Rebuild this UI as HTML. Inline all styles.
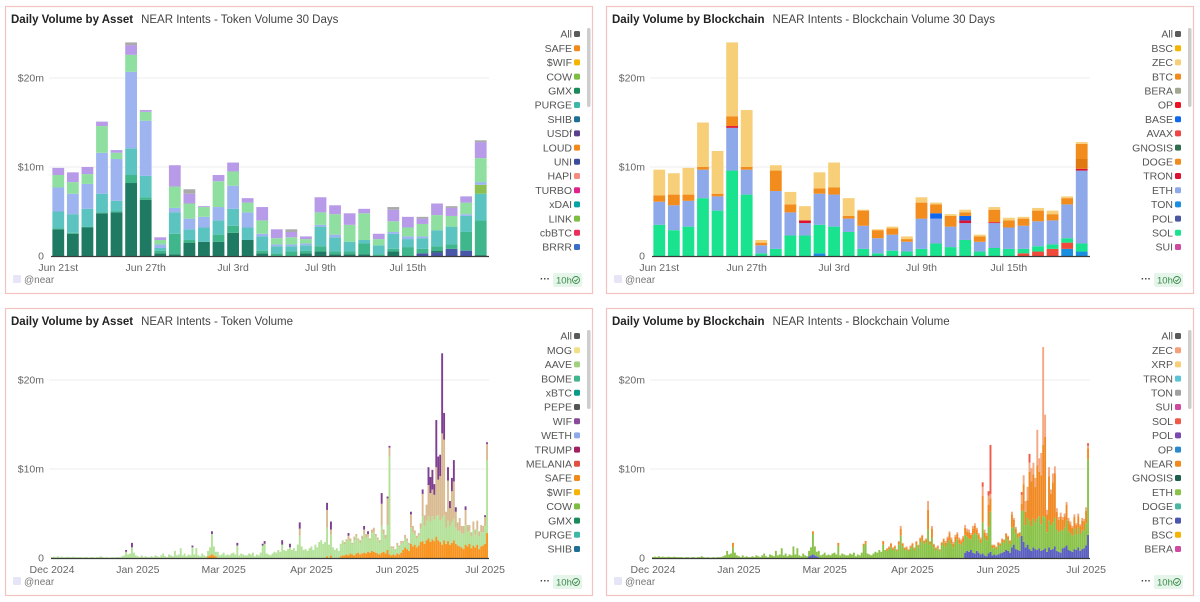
<!DOCTYPE html>
<html><head><meta charset="utf-8">
<style>
html,body{margin:0;padding:0;background:#fff;width:1200px;height:602px;overflow:hidden}
svg{display:block;font-family:"Liberation Sans",sans-serif}
</style></head>
<body>
<svg id="root" width="1200" height="602" viewBox="0 0 1200 602"></svg>
<script>
// ---------- Top-left: Token Volume 30 Days ----------
const tlCategories = ["Jun 21st","Jun 22","Jun 23","Jun 24","Jun 25","Jun 26","Jun 27th","Jun 28","Jun 29","Jun 30","Jul 1","Jul 2","Jul 3rd","Jul 4","Jul 5","Jul 6","Jul 7","Jul 8","Jul 9th","Jul 10","Jul 11","Jul 12","Jul 13","Jul 14","Jul 15th","Jul 16","Jul 17","Jul 18","Jul 19","Jul 20"];
const tlUni    = [0,0,0,0,0,0,0,0,0,0, 0,0,0,0,0,0,0,0,0,0, 0,0,0,0,0,0.3,0.4,0.8,0.6,0];
const tlGmx    = [3.0,2.5,3.2,4.8,4.9,8.2,6.3,0.3,0.2,1.5, 1.6,1.6,2.6,1.8,0.3,0,0,0.3,0.5,0.2, 0.2,0.2,0,0.5,0,0,0.2,0,0,0.1];
const tlBome   = [0.1,0.1,0.1,0.1,0.1,0.9,0.3,0.3,2.3,0.3, 0,0.8,0.8,0,0.3,0.3,0.5,0.3,0.6,0.3, 0.3,1.2,0.2,0.3,1.0,0.5,0.5,0.5,2.1,3.9];
const tlPurge  = [1.9,2.1,2.0,2.1,1.2,3.0,2.4,0.3,2.4,1.2, 1.6,1.6,1.9,1.4,1.6,0.8,0.6,0.6,2.2,1.6, 1.1,0.4,1.0,1.7,0.9,1.2,1.8,2.0,1.8,3.0];
const tlLink   = [0,0,0,0,0,0,0,0,0,0, 0,0,0,0,0,0,0,0,0,0, 0,0,0,0,0,0,0,0,0,1.0];
const tlWeth   = [2.7,2.3,2.8,4.6,4.7,8.6,6.2,0.4,0.5,1.2, 1.2,1.5,2.6,1.7,0.3,0.2,0.2,0.2,0.2,0.3, 0,0,0,0.2,0.3,0.2,0,0,0.2,0.3];
const tlAave   = [1.4,1.3,1.1,3.0,0.7,1.9,1.0,0.5,2.4,1.7, 1.1,2.9,1.6,1.1,1.5,0.7,0.8,0.5,1.4,2.3, 1.9,3.0,0.7,1.2,1.0,1.4,1.7,1.2,1.3,2.7];
const tlOther  = [0.8,1.1,0.8,0.5,0.3,1.1,0.2,0.3,2.4,1.1, 0.1,0.7,1.0,0.5,1.5,1.0,0.6,0.3,1.7,1.0, 1.3,0.5,0.6,1.3,1.2,0.6,1.3,0.9,0.7,1.8];
const tlGrey   = [0,0,0,0,0,0.3,0,0,0,0.5, 0,0,0,0,0,0,0.3,0,0,0, 0,0,0,0.3,0,0.2,0,0.2,0,0.2];
const tlTickIdx = [0,6,12,18,24];

// ---------- Top-right: Blockchain Volume 30 Days ----------
const trTon  = [0,0,0,0,0,0,0,0,0,0, 0,0.3,0,0,0,0,0,0,0,0, 0,0,0,0,0,0,0,0,0.8,0.5];
const trAvax = [0,0,0,0,0,0,0,0,0,0, 0,0,0,0,0,0,0,0,0,0, 0,0,0,0,0,0.3,0.5,0.8,0.7,0];
const trSol  = [3.5,2.9,3.3,6.5,5.1,9.6,6.9,0.3,0.8,2.3, 2.3,3.2,3.3,2.7,0.8,0.3,0.6,0.5,0.8,1.4, 1.0,1.8,0.5,0.9,0.8,0.5,0.6,0.5,0.5,0.9];
const trEth  = [2.6,2.8,2.9,3.2,1.6,4.8,2.8,0.9,6.5,2.6, 1.4,3.5,3.6,1.5,2.6,1.7,1.8,1.1,3.4,2.8, 2.3,1.9,1.1,2.8,2.4,2.6,2.8,2.7,3.8,8.2];
const trTron = [0,0,0,0,0,0.2,0,0,0,0, 0.3,0,0,0,0,0,0,0,0,0, 0,0.3,0,0.1,0,0,0,0,0,0.2];
const trBase = [0,0,0,0,0,0,0,0,0,0, 0,0,0,0,0,0,0,0,0,0.6, 0,0.5,0,0,0,0,0,0,0,0];
const trDoge = [0,0,0,0,0,0,0,0,0,0, 0,0,0,0,0,0,0,0,0,0, 0,0,0,0,0,0,0,0,0,1.1];
const trBtc  = [0.7,1.2,0.7,0.3,0.3,1.1,0.3,0.3,2.3,0.9, 0,0.6,0.8,0.3,1.7,0.9,0.7,0.3,1.8,1.0, 1.2,0.4,0.6,1.4,0.8,0.8,1.2,0.7,0.7,1.7];
const trZec  = [2.9,2.4,3.0,5.0,4.8,8.3,6.4,0.3,0.6,1.4, 1.6,1.8,2.8,2.0,0.1,0.1,0.2,0.3,0.6,0.2, 0.2,0.3,0.2,0.3,0.3,0.2,0.3,0.4,0.2,0.2];

// ---------- Bottom (all-time, 224 days) ----------
const allTimeTickLabels = ["Dec 2024","Jan 2025","Mar 2025","Apr 2025","Jun 2025","Jul 2025"];
const allTimeTickIdx = [0,44,88,133,177,222];

const blGreen = [
0.1,0.15,0.1,0.2,0.1,0.15,0.1,0.1,0.15,0.1, 0.1,0.15,0.1,0.1,0.1,0.1,0.05,0.1,0.1,0.05, 0.1,0.1,0.05,0.1,0.1,0.2,0.1,0.05,0.1,0.05,
0.05,0.1,0.05,0.1,0.1,0.1,0.2,0.3,0.7,0.4, 0.5,1.2,0.6,0.3,0.2,0.1,0.3,0.1,0.2,0.1, 0.1,0.2,0.1,0.3,0.2,0.1,0.3,0.5,0.2,0.1,
0.4,0.3,0.2,0.8,0.3,0.4,1.1,0.3,0.5,0.2, 0.4,0.3,1.2,0.4,1.1,0.3,0.2,0.5,0.3,0.2, 0.6,0.9,2.3,1.0,0.5,0.7,0.3,0.4,0.6,0.3,
0.4,0.3,0.5,0.6,0.4,1.4,0.3,0.5,0.4,0.3, 0.3,0.5,0.4,0.6,0.2,0.4,0.3,0.6,1.4,1.6, 0.5,0.4,0.3,0.5,0.7,0.6,0.9,0.7,1.5,0.9,
0.8,1.0,1.2,0.9,1.1,0.8,1.5,2.5,1.3,0.9, 1.0,0.8,1.1,1.3,0.9,1.5,1.2,1.8,2.0,1.6, 1.8,3.2,1.5,2.3,1.2,0.9,1.1,0.8,1.4,1.7,
1.2,1.5,1.8,1.4,1.1,1.7,1.9,1.4,1.3,1.6, 2.1,1.8,1.7,1.4,2.0,2.2,1.8,1.6,1.3,3.0, 2.0,1.7,2.8,11.0,0.8,0.7,0.6,0.9,0.8,1.0,
0.8,1.0,0.9,0.7,1.8,1.6,1.2,1.0,1.1,1.5, 2.8,2.0,2.2,2.5,2.3,2.6,2.4,2.3,2.8,2.4, 3.0,2.8,1.8,2.3,2.1,2.3,2.4,1.8,1.6,1.8,
1.6,1.7,2.2,1.6,1.5,1.3,1.8,1.4,1.7,1.4, 1.6,1.5,2.0,8.2];
const blOrange = [
0,0,0,0,0,0,0,0,0,0, 0,0,0,0,0,0,0,0,0,0, 0,0,0,0,0,0,0,0,0,0,
0,0,0,0,0,0,0,0,0,0, 0,0,0,0,0,0,0,0,0,0, 0,0,0,0,0,0,0,0,0,0,
0,0,0,0,0,0,0,0,0,0, 0,0,0,0,0,0,0,0,0,0, 0.2,0.3,0.4,0.3,0.2,0,0,0,0,0,
0,0,0,0,0,0,0,0,0,0, 0,0,0,0,0,0,0,0,0,0, 0,0,0,0,0,0,0,0,0,0,
0,0,0,0,0,0,0,0,0,0, 0,0,0,0,0,0,0,0,0,0, 0,0.2,0,0.3,0,0,0,0,0.2,0.3,
0.3,0.4,0.3,0.5,0.4,0.3,0.5,0.6,0.4,0.5, 0.6,0.5,0.7,0.6,0.8,0.7,0.6,0.5,0.4,0.6, 0.7,0.5,0.9,0.4,0.3,0.4,0.3,0.5,0.4,0.6,
0.9,1.2,1.0,0.8,1.6,1.3,1.5,1.2,1.4,1.8, 1.9,1.6,2.0,2.2,1.8,2.1,1.9,2.4,2.0,1.8, 1.5,2.0,1.6,1.9,1.5,1.7,2.0,1.6,1.4,1.3,
1.2,1.0,1.5,1.3,1.6,1.1,1.4,1.2,1.5,1.0, 1.3,1.4,1.6,2.8];
const blTan = [
0,0,0,0,0,0,0,0,0,0, 0,0,0,0,0,0,0,0,0,0, 0,0,0,0,0,0,0,0,0,0,
0,0,0,0,0,0,0,0,0,0, 0,0,0,0,0,0,0,0,0,0, 0,0,0,0,0,0,0,0,0,0,
0,0,0,0,0,0,0,0,0,0, 0,0,0,0,0,0,0,0,0,0, 0,0,0,0,0,0,0,0,0,0,
0,0,0,0,0,0,0,0,0,0, 0,0,0,0,0,0,0,0,0,0, 0,0,0,0,0,0,0,0,0,0,
0,0,0,0,0,0,0,0.8,0,0, 0,0,0,0,0,0,0,0,0,0, 0,2.0,0,0.6,0,0,0,0,0,0,
0.3,0.2,0.4,0.3,0.2,0.4,0.3,0.2,0.3,0.4, 0.5,0.4,0.3,0.2,0.4,0.5,0.3,0.2,0.3,2.5, 0.5,0.4,3.0,1.0,0.2,0.2,0.1,0.3,0.2,0.3,
0.2,0.4,0.3,0.2,1.5,0.7,0.4,0.3,0.3,0.6, 2.5,1.2,1.8,3.5,3.2,3.0,2.8,5.5,4.0,5.0, 9.5,8.5,1.8,4.5,2.0,3.5,4.2,1.8,1.0,1.4,
0.8,0.9,1.7,0.8,0.6,0.5,0.9,0.6,1.0,0.6, 0.8,0.7,1.0,1.8];
const blWif = [
0,0,0,0,0,0,0,0,0,0, 0,0,0,0,0,0,0,0,0,0, 0,0,0,0,0,0,0,0,0,0,
0,0,0,0,0,0,0,0,0.2,0, 0,0.5,0,0,0,0,0,0,0,0, 0,0,0,0,0,0,0,0,0,0,
0,0,0,0,0,0,0,0,0,0, 0,0,0.2,0,0,0,0,0,0,0, 0,0,0.3,0,0,0,0,0,0,0,
0,0,0,0,0,0.3,0,0,0,0, 0,0,0,0,0,0,0,0,0.2,0.3, 0,0,0,0,0,0,0,0,0.5,0,
0,0,0.4,0,0,0,0,0.7,0,0, 0,0,0,0,0,0,0,0,0,0, 0,0.8,0,0.9,0,0,0,0,0,0,
0,0,0.3,0,0,0,0,0,0,0, 0.4,0,0.3,0,0,0,0,0,0,1.2, 0,0,0.2,0.2,0,0,0,0,0,0,
0,0,0,0,0.3,0,0,0,0,0, 0.5,0,0,2.0,1.8,2.2,1.2,5.3,2.6,2.4, 9.0,3.0,0,1.5,0.8,1.5,2.4,0.5,0,0,
0,0,0.4,0,0,0,0,0,0,0, 0,0,0.2,0.2];

const brBtc = [
0,0,0,0,0,0,0,0,0,0, 0,0,0,0,0,0,0,0,0,0, 0,0,0,0,0,0,0,0,0,0,
0,0,0,0,0,0,0,0,0,0, 0,0,0,0,0,0,0,0,0,0, 0,0,0,0,0,0,0,0,0,0,
0,0,0,0,0,0,0,0,0,0, 0,0,0,0,0,0,0,0,0,0, 0.2,0.3,0.4,0.3,0.2,0.1,0,0,0,0,
0,0,0,0,0,0,0,0,0,0, 0,0,0,0,0,0,0,0,0,0, 0,0,0,0,0,0,0,0,0,0,
0,0,0,0,0,0,0,0,0,0, 0,0,0,0,0,0,0,0,0,0, 0,0,0,0,0,0,0,0,0,0,
0,0,0,0,0,0,0,0,0,0, 0.6,0.8,0.7,0.9,0.6,0.5,0.8,0.6,0.4,0.5, 0.3,0.2,0.5,0.7,0.3,0.4,0.3,0.4,0.5,0.6,
0.7,0.9,0.8,0.6,1.2,1.5,1.0,0.9,0.8,2.5, 1.8,1.2,1.5,1.0,0.8,1.2,1.0,0.9,1.1,0.8, 0.9,1.1,0.7,1.2,0.9,1.0,1.3,0.8,0.7,0.6,
1.1,1.2,1.4,0.9,0.8,0.7,1.0,0.9,1.2,0.8, 1.0,1.1,1.4,2.6];
const brEth = [
0.1,0.15,0.1,0.2,0.1,0.15,0.1,0.1,0.15,0.1, 0.1,0.15,0.1,0.1,0.1,0.1,0.05,0.1,0.1,0.05, 0.1,0.1,0.05,0.1,0.1,0.2,0.1,0.05,0.1,0.05,
0.05,0.1,0.05,0.1,0.1,0.1,0.2,0.3,0.8,0.4, 0.5,1.2,0.6,0.3,0.2,0.1,0.3,0.1,0.2,0.1, 0.1,0.2,0.1,0.3,0.2,0.1,0.3,0.5,0.2,0.1,
0.4,0.3,0.2,0.8,0.3,0.4,1.1,0.3,0.5,0.2, 0.4,0.3,1.3,0.4,1.1,0.3,0.2,0.5,0.3,0.2, 0.6,0.9,2.3,1.0,0.5,0.7,0.3,0.4,0.6,0.3,
0.4,0.3,0.5,0.6,0.4,1.4,0.3,0.5,0.4,0.3, 0.3,0.5,0.4,0.6,0.2,0.4,0.3,0.6,1.4,1.6, 0.5,0.4,0.3,0.5,0.7,0.6,0.9,0.7,1.5,0.9,
0.8,1.0,1.2,0.9,1.1,0.8,1.5,2.5,1.3,0.9, 1.0,0.8,1.1,1.3,0.9,1.5,1.2,1.8,2.0,1.6, 1.8,3.2,1.5,2.3,1.2,0.9,1.1,0.8,1.4,1.7,
1.3,1.7,2.0,1.6,1.2,1.8,2.1,1.6,1.5,1.8, 2.0,1.6,1.5,1.2,2.0,2.3,1.8,1.5,1.3,3.5, 2.0,1.8,3.0,4.5,0.8,0.8,0.7,1.0,0.9,1.2,
1.0,1.4,1.2,1.0,2.2,2.0,1.8,1.4,1.6,2.8, 3.5,2.5,3.0,3.2,2.8,3.2,3.0,3.5,3.6,3.0, 3.8,3.5,2.2,3.0,2.8,3.0,3.2,2.4,2.2,2.5,
2.0,2.2,2.8,2.1,2.0,1.8,2.3,1.8,2.2,1.9, 2.1,2.0,2.5,8.5];
const brNear = [
0,0,0,0,0,0,0,0,0,0, 0,0,0,0,0,0,0,0,0,0, 0,0,0,0,0,0,0,0,0,0,
0,0,0,0,0,0,0,0,0,0, 0,0.5,0,0,0,0,0,0,0,0, 0,0,0,0,0,0,0,0,0,0,
0,0,0,0,0,0,0,0,0,0, 0,0,0,0,0,0,0,0,0,0, 0,0,0.3,0,0,0,0,0,0,0,
0,0,0,0,0,0.3,0,0,0,0, 0,0,0,0,0,0,0,0,0.2,0.3, 0,0,0,0,0,0,0,0,0.4,0,
0.2,0.2,0.4,0.2,0.2,0.1,0.3,0.8,0.3,0.2, 0.2,0.1,0.2,0.3,0.2,0.3,0.2,0.4,0.5,0.3, 0.3,2.2,0.3,1.0,0.3,0.2,0.2,0.1,0.3,0.4,
0.4,0.5,0.8,0.5,0.4,0.6,0.6,0.5,0.4,0.5, 0.8,0.6,0.7,0.5,0.7,0.8,0.6,0.5,0.4,3.0, 0.6,0.5,2.5,1.5,0.3,0.2,0.2,0.3,0.2,0.3,
0.3,0.4,0.4,0.3,1.5,0.8,0.5,0.4,0.4,0.8, 3.0,1.5,2.0,5.5,5.0,5.0,4.0,6.0,5.0,5.5, 8.0,9.0,2.0,5.0,3.5,4.5,5.0,2.0,1.4,1.6,
1.2,1.3,1.8,1.2,1.0,0.9,1.3,1.0,1.3,0.9, 1.1,1.0,1.4,1.2];
const brZec = [
0,0,0,0,0,0,0,0,0,0, 0,0,0,0,0,0,0,0,0,0, 0,0,0,0,0,0,0,0,0,0,
0,0,0,0,0,0,0,0,0,0, 0,0,0,0,0,0,0,0,0,0, 0,0,0,0,0,0,0,0,0,0,
0,0,0,0,0,0,0,0,0,0, 0,0,0,0,0,0,0,0,0,0, 0,0,0,0,0,0,0,0,0,0,
0,0,0,0,0,0,0,0,0,0, 0,0,0,0,0,0,0,0,0,0, 0,0,0,0,0,0,0,0,0,0,
0.1,0.1,0.1,0.1,0.1,0.1,0.1,0.3,0.1,0.1, 0.1,0.1,0.1,0.1,0.1,0.1,0.1,0.1,0.1,0.1, 0.1,1.0,0.1,0.3,0.1,0.1,0.1,0.1,0.1,0.1,
0.2,0.2,0.2,0.2,0.2,0.2,0.2,0.2,0.2,0.2, 0.3,0.3,0.3,0.2,0.3,0.3,0.2,0.2,0.2,1.0, 0.3,0.3,1.0,0.5,0.1,0.1,0.1,0.1,0.1,0.1,
0.1,0.1,0.1,0.1,0.3,0.2,0.2,0.1,0.1,1.0, 1.0,1.2,1.5,1.0,1.5,1.3,1.0,4.0,1.5,2.5, 11.0,2.5,0.5,1.0,0.5,1.0,0.8,0.4,0.3,0.4,
0.3,0.3,0.3,0.3,0.3,0.2,0.3,0.2,0.3,0.2, 0.3,0.3,0.4,0.3];
const brSol = [
0,0,0,0,0,0,0,0,0,0, 0,0,0,0,0,0,0,0,0,0, 0,0,0,0,0,0,0,0,0,0,
0,0,0,0,0,0,0,0,0,0, 0,0,0,0,0,0,0,0,0,0, 0,0,0,0,0,0,0,0,0,0,
0,0,0,0,0,0,0,0,0,0, 0,0,0,0,0,0,0,0,0,0, 0,0,0,0,0,0,0,0,0,0,
0,0,0,0,0,0,0,0,0,0, 0,0,0,0,0,0,0,0,0,0, 0,0,0,0,0,0,0,0,0,0,
0,0,0,0,0,0,0,0,0,0, 0,0,0,0,0,0,0,0,0,0, 0,0,0,0,0,0,0,0,0,0,
0,0,0,0,0,0,0,0,0,0, 0,0,0,0,0,0,0,0,0,0.5, 0,0,0.5,5.5,0,0,0,0,0,0,
0,0,0,0,0,0,0,0,0,0.3, 0,0,0,1.0,0,0,0,0,0,0, 0,0,0,0,0,0,0,0,0,0,
0,0,0,0,0,0,0,0,0,0, 0,0,0,0.3];

const yTickValues = [0,10,20];
const yTickLabels = ["0","$10m","$20m"];

const NS = "http://www.w3.org/2000/svg";
const root = document.getElementById('root');
function mk(tag, attrs, parent){
  const e = document.createElementNS(NS, tag);
  for (const k in attrs) e.setAttribute(k, attrs[k]);
  (parent||root).appendChild(e);
  return e;
}

const panels = [
  {px:5, py:6, title:"Daily Volume by Asset", sub:"NEAR Intents - Token Volume 30 Days", name:"token-volume-30d",
   n:tlCategories.length, barW:11.8, ticks:tlTickIdx.map(i=>[i, tlCategories[i]]),
   series:[["UNI","#4a56a8",tlUni],["GMX","#1f7a63",tlGmx],["BOME","#3fb68b",tlBome],["PURGE","#5cc4c0",tlPurge],["LINK","#8cc152",tlLink],["WETH","#9db4f0",tlWeth],["AAVE","#8fe0a0",tlAave],["other","#b89be8",tlOther],["misc","#aaaaaa",tlGrey]],
   legend:[["All","#5a5a5a"],["SAFE","#f08a1c"],["$WIF","#f5b400"],["COW","#7cbd42"],["GMX","#1a8a5a"],["PURGE","#3db8a8"],["SHIB","#1f6f94"],["USDf","#5a3f8c"],["LOUD","#f08a1c"],["UNI","#3a4c9a"],["HAPI","#f58c80"],["TURBO","#e0208c"],["xDAI","#0aa3a3"],["LINK","#7cbd42"],["cbBTC","#e8305a"],["BRRR","#3a6cc8"]]},
  {px:606, py:6, title:"Daily Volume by Blockchain", sub:"NEAR Intents - Blockchain Volume 30 Days", name:"blockchain-volume-30d",
   n:tlCategories.length, barW:11.8, ticks:tlTickIdx.map(i=>[i, tlCategories[i]]),
   series:[["TON","#1a8fe0",trTon],["AVAX","#f04a3a",trAvax],["SOL","#19e38e",trSol],["ETH","#8ea9ea",trEth],["TRON","#dd1133",trTron],["BASE","#1166ee",trBase],["DOGE","#e07a10",trDoge],["BTC","#f28c1c",trBtc],["ZEC","#f7cf78",trZec]],
   legend:[["All","#5a5a5a"],["BSC","#f5b400"],["ZEC","#f7cf78"],["BTC","#f08a1c"],["BERA","#a0a890"],["OP","#ee1122"],["BASE","#1166ee"],["AVAX","#ee4444"],["GNOSIS","#2f6f50"],["DOGE","#f08a1c"],["TRON","#dd1133"],["ETH","#8ea9ea"],["TON","#1a8fe0"],["POL","#4a56a0"],["SOL","#19e38e"],["SUI","#d04aa0"]]},
  {px:5, py:308, title:"Daily Volume by Asset", sub:"NEAR Intents - Token Volume", name:"token-volume-all",
   n:blGreen.length, barW:1.9, ticks:allTimeTickIdx.map((i,k)=>[i, allTimeTickLabels[k]]),
   series:[["SAFE","#f7931e",blOrange],["AAVE","#b4e29a",blGreen],["MOG","#d9bb92",blTan],["WIF","#7e3f90",blWif]],
   legend:[["All","#5a5a5a"],["MOG","#f0e08a"],["AAVE","#a0d080"],["BOME","#3fb68b"],["xBTC","#0a9a8a"],["PEPE","#555555"],["WIF","#8a4a9a"],["WETH","#8ea9ea"],["TRUMP","#a02060"],["MELANIA","#e05040"],["SAFE","#f08a1c"],["$WIF","#f5b400"],["COW","#7cbd42"],["GMX","#1a8a5a"],["PURGE","#3db8a8"],["SHIB","#1f6f94"]]},
  {px:606, py:308, title:"Daily Volume by Blockchain", sub:"NEAR Intents - Blockchain Volume", name:"blockchain-volume-all",
   n:brEth.length, barW:1.9, ticks:allTimeTickIdx.map((i,k)=>[i, allTimeTickLabels[k]]),
   series:[["BTC","#5a5fc0",brBtc],["ETH","#8bc34a",brEth],["NEAR","#f08a24",brNear],["ZEC","#f4a880",brZec],["SOL","#ef5a48",brSol]],
   legend:[["All","#5a5a5a"],["ZEC","#f4a07a"],["XRP","#f7cf78"],["TRON","#5cc4d8"],["TON","#a0a0a0"],["SUI","#d04aa0"],["SOL","#ef5a48"],["POL","#7a4ab0"],["OP","#2a88d0"],["NEAR","#f08a1c"],["GNOSIS","#1f5f50"],["ETH","#8bc34a"],["DOGE","#4ab8a0"],["BTC","#4a56b0"],["BSC","#f5b400"],["BERA","#d04aa0"]]}
];

panels.forEach(p=>{
  const g = mk('g',{transform:`translate(${p.px},${p.py})`});
  
  
  const frame = mk('rect',{x:0.5,y:0.5,width:587,height:287,fill:'#fff',stroke:'#f2c3bf','stroke-width':1.2},g);
  
  
  const t = mk('text',{x:6,y:17,'font-size':11.5,'font-weight':'bold',fill:'#222'},g);
  t.textContent = p.title;
  
  
  const st = mk('text',{x:6 + t.getComputedTextLength() + 8,y:17,'font-size':11.5,fill:'#444'},g);
  st.textContent = p.sub;
  
  

  const x0 = 46, x1 = 483, base = 250, pxPerM = 8.9;
  const yScale = v => base - v*pxPerM;
  const step = (x1-x0)/p.n;
  const xScale = i => x0 + i*step;

  yTickValues.forEach((v,k)=>{
    if (v>0){
      const gl = mk('line',{x1:x0-2,x2:x1+1,y1:yScale(v),y2:yScale(v),stroke:'#ececec','stroke-width':1},g);
      
      
    }
    const yl = mk('text',{x:39,y:yScale(v)+3.5,'font-size':10.5,fill:'#666','text-anchor':'end'},g);
    yl.textContent = yTickLabels[k];
    
    
  });

  const bars = mk('g',{},g);
  
  
  for (let i=0;i<p.n;i++){
    let acc = 0;
    p.series.forEach(s=>{
      const v = s[2][i] || 0;
      if (v<=0) return;
      const yTop = yScale(acc+v), yBot = yScale(acc);
      const r = mk('rect',{x:xScale(i)+(step-p.barW)/2,y:yTop,width:p.barW,height:Math.max(yBot-yTop,0.3),fill:s[1]},bars);
      
      
      acc += v;
    });
  }
  const axis = mk('line',{x1:x0,x2:x1+1,y1:base+0.5,y2:base+0.5,stroke:'#3a3a3a','stroke-width':1.2},g);
  
  

  p.ticks.forEach(tk=>{
    const xl = mk('text',{x:xScale(tk[0])+step/2,y:265,'font-size':10.5,fill:'#666','text-anchor':'middle'},g);
    xl.textContent = tk[1];
    
    
  });

  p.legend.forEach((l,k)=>{
    const y = 28 + k*14.2;
    const lt = mk('text',{x:567,y:y+3.7,'font-size':10.5,fill:'#555','text-anchor':'end'},g);
    lt.textContent = l[0];
    
    
    const sw = mk('rect',{x:569,y:y-3,width:6,height:6,rx:1.5,fill:l[1]},g);
    
    
  });
  const sb = mk('rect',{x:582,y:22,width:3.5,height:79,rx:1.7,fill:'#cdcdcd'},g);
  
  

  const av = mk('rect',{x:8,y:269,width:8,height:8,rx:1.5,fill:'#e6e4f7'},g);
  
  
  const au = mk('text',{x:19,y:277,'font-size':10,fill:'#777'},g);
  au.textContent = '@near';
  
  
  const more = mk('text',{x:535,y:276,'font-size':10,'font-weight':'bold',fill:'#444'},g);
  more.textContent = '···';
  
  
  const badge = mk('rect',{x:548,y:267,width:29,height:14,rx:2,fill:'#e6f5ea'},g);
  
  
  const bt = mk('text',{x:551,y:277.5,'font-size':9.5,fill:'#3a8a4a'},g);
  bt.textContent = '10h';
  
  
  const ck = mk('circle',{cx:571,cy:274,r:3.5,fill:'none',stroke:'#3a8a4a','stroke-width':0.9},g);
  
  
  const cp = mk('path',{d:'M569.3 274.1 L570.6 275.3 L572.8 272.8',fill:'none',stroke:'#3a8a4a','stroke-width':0.9},g);
  
  
});
</script>
</body></html>
